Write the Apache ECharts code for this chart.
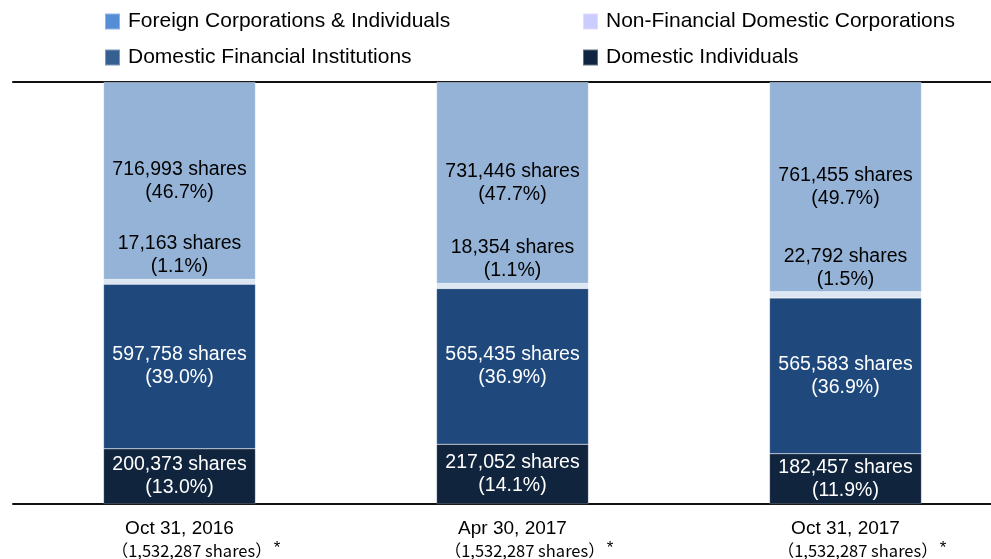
<!DOCTYPE html>
<html>
<head>
<meta charset="utf-8">
<style>
  html, body { margin: 0; padding: 0; background: #fff; }
  #chart { width: 991px; height: 559px; }
</style>
<script src="https://cdn.jsdelivr.net/npm/echarts@6/dist/echarts.min.js"></script>
</head>
<body>
<div id="chart"></div>
<script>
// Shareholder composition at each record date
const dates = ['Oct 31, 2016', 'Apr 30, 2017', 'Oct 31, 2017'];
const totalShares = ['1,532,287', '1,532,287', '1,532,287'];
const totalValue = 1532287;

const domesticIndividuals = [200373, 217052, 182457];
const domesticIndividualsPct = ['13.0', '14.1', '11.9'];

const domesticFinancial = [597758, 565435, 565583];
const domesticFinancialPct = ['39.0', '36.9', '36.9'];

const nonFinancialDomestic = [17163, 18354, 22792];
const nonFinancialDomesticPct = ['1.1', '1.1', '1.5'];

const foreignCorporations = [716993, 731446, 761455];
const foreignCorporationsPct = ['46.7', '47.7', '49.7'];

const FONT = '"Liberation Sans", Arial, sans-serif';
const CJK_FONT = '"Noto Sans CJK JP", "Liberation Sans", sans-serif';

function fmt(n) {
  return n.toLocaleString('en-US');
}

function shareLabel(pcts) {
  return function (p) {
    return fmt(p.value) + ' shares\n(' + pcts[p.dataIndex] + '%)';
  };
}

function barSeries(name, data, pcts, color, labelColor, labelPos) {
  return {
    name: name,
    type: 'bar',
    stack: 'all',
    data: data,
    barWidth: 152,
    itemStyle: { color: color, borderColor: 'rgba(255,255,255,0.35)', borderWidth: 0.6 },
    label: {
      show: true,
      position: labelPos,
      distance: 1,
      formatter: shareLabel(pcts),
      color: labelColor,
      fontFamily: FONT,
      fontSize: 19.5,
      lineHeight: 23
    },
    emphasis: { disabled: true }
  };
}

const chart = echarts.init(document.getElementById('chart'), null, { renderer: 'canvas' });

const legendBase = {
  orient: 'vertical',
  top: 11,
  padding: 0,
  icon: 'rect',
  itemWidth: 15,
  itemHeight: 16,
  itemGap: 15,
  selectedMode: false,
  textStyle: { fontFamily: FONT, fontSize: 21, color: '#000', padding: [0, 0, 0, 3] }
};

chart.setOption({
  animation: false,
  backgroundColor: '#fff',
  legend: [
    Object.assign({}, legendBase, {
      left: 104,
      data: [
        { name: 'Foreign Corporations & Individuals', itemStyle: { color: '#558ed5' } },
        { name: 'Domestic Financial Institutions', itemStyle: { color: '#376092' } }
      ]
    }),
    Object.assign({}, legendBase, {
      left: 582,
      data: [
        { name: 'Non-Financial Domestic Corporations', itemStyle: { color: '#ccccff' } },
        { name: 'Domestic Individuals', itemStyle: { color: '#10253f' } }
      ]
    })
  ],
  grid: { left: 13, width: 999, top: 82, bottom: 55, containLabel: false, outerBoundsMode: 'none' },
  xAxis: [
    {
      type: 'category',
      data: dates,
      axisTick: { show: false },
      axisLine: { show: true, lineStyle: { color: '#111', width: 2 } },
      axisLabel: {
        margin: 13,
        interval: 0,
        formatter: function (v, i) {
          return '{d|' + v + '}\n{p|（' + totalShares[i] + ' shares）}{s|*}';
        },
        rich: {
          d: { fontFamily: FONT, fontSize: 19, color: '#000', lineHeight: 23 },
          p: { fontFamily: CJK_FONT, fontSize: 16.5, color: '#000', lineHeight: 22, padding: [0, 0, 0, 33] },
          s: { fontFamily: FONT, fontSize: 17, color: '#000', lineHeight: 22, verticalAlign: 'top', padding: [0, 0, 6, 2] }
        }
      }
    },
    {
      type: 'category',
      position: 'top',
      data: dates,
      axisTick: { show: false },
      axisLabel: { show: false },
      axisLine: { show: true, lineStyle: { color: '#111', width: 2 } }
    }
  ],
  yAxis: {
    type: 'value',
    min: 0,
    max: totalValue,
    show: false,
    splitLine: { show: false }
  },
  series: [
    barSeries('Domestic Individuals', domesticIndividuals, domesticIndividualsPct, '#10243e', '#fff', 'inside'),
    barSeries('Domestic Financial Institutions', domesticFinancial, domesticFinancialPct, '#1f497d', '#fff', 'inside'),
    barSeries('Non-Financial Domestic Corporations', nonFinancialDomestic, nonFinancialDomesticPct, '#dce6f2', '#000', 'top'),
    barSeries('Foreign Corporations & Individuals', foreignCorporations, foreignCorporationsPct, '#95b3d7', '#000', 'inside')
  ]
});
</script>
</body>
</html>
